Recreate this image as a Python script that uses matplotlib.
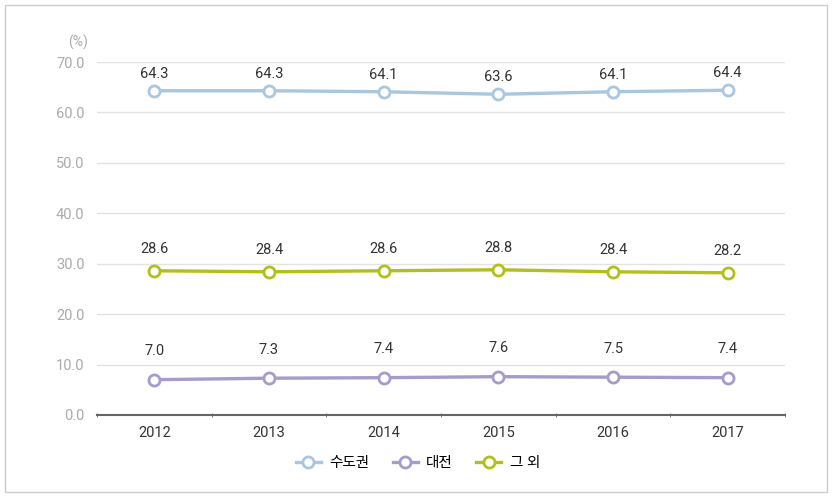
import numpy as np
import matplotlib.pyplot as plt
from matplotlib.patches import Rectangle

plt.rcParams['font.family'] = ['Roboto', 'Noto Sans CJK KR', 'DejaVu Sans']

years = ['2012', '2013', '2014', '2015', '2016', '2017']
capital = [64.3, 64.3, 64.1, 63.6, 64.1, 64.4]
daejeon = [7.0, 7.3, 7.4, 7.6, 7.5, 7.4]
others = [28.6, 28.4, 28.6, 28.8, 28.4, 28.2]
names = ['수도권', '대전', '그 외']
colors = ['#a9c7df', '#a79bcb', '#b3c01c']
label_gap = [3.4, 5.6, 4.4]

fig = plt.figure(figsize=(8.35, 5.03), dpi=100)
fig.patches.append(Rectangle((5 / 835, 11 / 503), 822 / 835, 487 / 503, transform=fig.transFigure,
                             fill=False, edgecolor='#cccccc', linewidth=1))
ax = fig.add_axes([97 / 835, 1 - 415 / 503, 688 / 835, 353 / 503])

x = np.arange(len(years))
for vals, name, c, gap in zip([capital, daejeon, others], names, colors, label_gap):
    ax.plot(x, vals, color=c, lw=2.4, marker='o', ms=8, mfc='white', mec=c, mew=2, label=name, zorder=3)
    for xi, v in zip(x, vals):
        ax.text(xi, v + gap, f'{v:.1f}', ha='center', va='center', fontsize=10.5, color='#333333')

ax.set_xlim(-0.5, 5.5)
ax.set_ylim(0, 70)
ax.set_yticks(np.arange(0, 71, 10))
ax.set_yticklabels([f'{v:.1f}' for v in np.arange(0, 71, 10)], color='#aaaaaa', fontsize=10.5)
ax.set_xticks(x)
ax.set_xticklabels(years, fontsize=10.5, color='#333333')
ax.set_xticks(np.arange(-0.5, 6, 1), minor=True)
ax.tick_params(axis='x', which='major', length=0, pad=8)
ax.tick_params(axis='x', which='minor', length=3, direction='inout', color='#666666')
ax.tick_params(axis='y', length=0, pad=9)
ax.grid(axis='y', color='#e3e3e3', lw=1)
ax.set_axisbelow(True)
for s in ['top', 'right', 'left']:
    ax.spines[s].set_visible(False)
ax.spines['bottom'].set_color('#666666')
ax.spines['bottom'].set_linewidth(1.5)
fig.text(88 / 835, 1 - 42 / 503, '(%)', ha='right', va='center', fontsize=10, color='#aaaaaa')

fig.legend(loc='center', bbox_to_anchor=(418 / 835, 1 - 463 / 503), ncol=3, frameon=False,
           fontsize=10.5, handlelength=1.7, columnspacing=1.6, handletextpad=0.6)

fig.savefig('out.png', dpi=100)
